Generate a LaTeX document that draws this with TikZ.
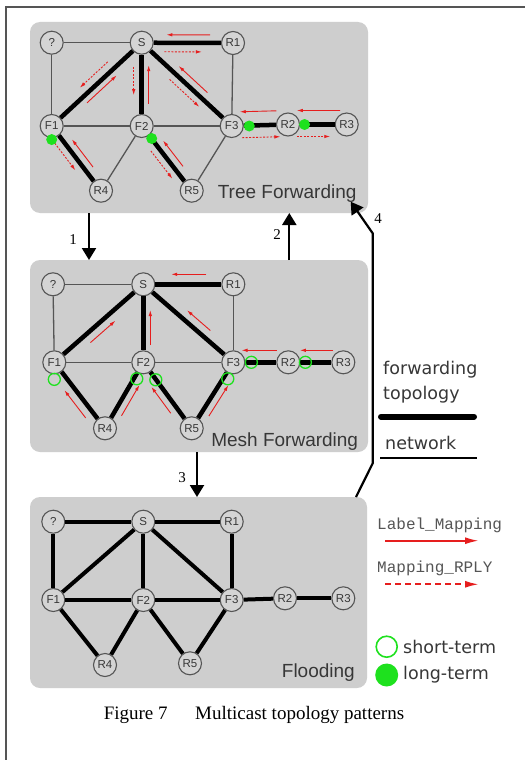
\documentclass[tikz,border=0pt]{standalone}
\usepackage{fontspec}
\setmainfont{Liberation Sans}
\newfontfamily\serffont{Liberation Serif}
\newfontfamily\monofnt{Liberation Mono}
\newfontfamily\legfont{DejaVu Sans}
\usetikzlibrary{calc,arrows.meta}
\definecolor{panelgray}{RGB}{206,206,206}
\definecolor{nodegray}{RGB}{212,212,212}
\definecolor{edgegray}{RGB}{85,85,85}
\definecolor{txtgray}{RGB}{55,55,55}
\definecolor{redarr}{RGB}{230,30,30}
\definecolor{grn}{RGB}{30,225,30}
\newcommand\rarr[6]{\draw[#6] ($(#1)!#3!(#2)!#5!90:(#2)$) -- ($(#1)!#4!(#2)!#5!90:(#2)$);}
\begin{document}
\begin{tikzpicture}[x=1pt,y=-1pt,
  panel/.style={fill=panelgray,rounded corners=10pt,inner sep=0pt,outer sep=0pt},
  nd/.style={circle,draw=edgegray,line width=1.1pt,fill=nodegray,minimum size=23pt,inner sep=0pt,
    font=\fontsize{11.5}{12}\selectfont,text=txtgray},
  netline/.style={draw=edgegray,line width=1.3pt},
  fwdline/.style={draw=black,line width=4.5pt},
  lm/.style={draw=redarr,line width=0.9pt,-{Latex[length=6pt,width=3.5pt]}},
  mr/.style={draw=redarr,line width=0.9pt,dash pattern=on 2pt off 1.5pt,-{Latex[length=6pt,width=3.5pt]}},
  bigarr/.style={draw=black,line width=2.2pt,-{Triangle[length=12pt,width=14pt]}},
  ttl/.style={anchor=east,font=\fontsize{19}{20}\selectfont,text=txtgray,inner sep=0pt},
  num/.style={font=\serffont\fontsize{15}{16}\selectfont,inner sep=0pt},
  leg/.style={anchor=west,font=\legfont\fontsize{17.5}{18}\selectfont,text=txtgray,inner sep=0pt},
  legm/.style={anchor=west,font=\monofnt\fontsize{16}{17}\selectfont,text=txtgray!85,inner sep=0pt},
  shortt/.style={circle,draw=grn,line width=1.3pt,minimum size=12pt,inner sep=0pt},
  longt/.style={circle,fill=grn,minimum size=11pt,inner sep=0pt}
]
\useasboundingbox (0,0) rectangle (525,760);
\fill[white] (0,0) rectangle (525,760);
% outer frame
\draw[edgegray,line width=1.2pt] (6,760) -- (6,7) -- (525,7);

% panels
\node[panel,minimum width=338pt,minimum height=191pt] (tp) at (199,117.5) {};
\node[panel,minimum width=338pt,minimum height=192pt] (mp) at (199,356) {};
\node[panel,minimum width=337pt,minimum height=191pt] (bp) at (198.5,592.5) {};

% ---------- Tree forwarding ----------
\node[nd] (tQ) at (51.7,42.7) {?};
\node[nd] (tS) at (141.7,42.7) {S};
\node[nd] (tR1) at (233,43) {R1};
\node[nd] (tF1) at (51.7,126) {F1};
\node[nd] (tF2) at (141.7,126) {F2};
\node[nd] (tF3) at (231.7,126) {F3};
\node[nd] (tR2) at (288,124.5) {R2};
\node[nd] (tR3) at (346.7,124.5) {R3};
\node[nd] (tR4) at (101,190.7) {R4};
\node[nd] (tR5) at (191.7,190.7) {R5};
\foreach \a/\b in {tQ/tS,tQ/tF1,tR1/tF3,tF1/tF2,tF2/tF3,tF2/tR4,tF3/tR5}
  \draw[netline] (\a) -- (\b);
\foreach \a/\b in {tS/tR1,tS/tF1,tS/tF2,tS/tF3,tF3/tR2,tR2/tR3,tF1/tR4,tF2/tR5}
  \draw[fwdline] (\a) -- (\b);
\rarr{tS}{tR1}{0.75}{0.27}{8pt}{lm}
\rarr{tS}{tR1}{0.25}{0.66}{-9pt}{mr}
\rarr{tS}{tF1}{0.31}{0.62}{-9pt}{mr}
\rarr{tS}{tF1}{0.66}{0.33}{7pt}{lm}
\rarr{tS}{tF2}{0.29}{0.63}{-8pt}{mr}
\rarr{tS}{tF2}{0.73}{0.27}{7pt}{lm}
\rarr{tS}{tF3}{0.67}{0.35}{8pt}{lm}
\rarr{tS}{tF3}{0.37}{0.70}{-8pt}{mr}
\rarr{tF3}{tR2}{0.80}{0.15}{14pt}{lm}
\rarr{tF3}{tR2}{0.18}{0.86}{-12pt}{mr}
\rarr{tR2}{tR3}{0.89}{0.15}{14pt}{lm}
\rarr{tR2}{tR3}{0.15}{0.72}{-12pt}{mr}
\rarr{tF1}{tR4}{0.71}{0.28}{8pt}{lm}
\rarr{tF1}{tR4}{0.19}{0.61}{-8pt}{mr}
\rarr{tF2}{tR5}{0.70}{0.30}{8pt}{lm}
\rarr{tF2}{tR5}{0.31}{0.74}{-8pt}{mr}
\node[longt] (tg1) at ($(tF3.east)+(5.5,0)$) {};
\node[longt] (tg2) at ($(tR2.east)+(4.5,0)$) {};
\node[longt] (tg3) at ($(tF1.south)+(0,1.5)$) {};
\node[longt] (tg4) at ($(tF2)+(10,12.5)$) {};
\node[ttl] (tt) at (356.7,193.3) {Tree Forwarding};

% ---------- Mesh forwarding ----------
\node[nd] (mQ) at (53,284.3) {?};
\node[nd] (mS) at (143.3,284.3) {S};
\node[nd] (mR1) at (233.3,284.3) {R1};
\node[nd] (mF1) at (54.3,362.3) {F1};
\node[nd] (mF2) at (143.3,362.3) {F2};
\node[nd] (mF3) at (233.3,362.3) {F3};
\node[nd] (mR2) at (288.3,362.3) {R2};
\node[nd] (mR3) at (343.3,362.3) {R3};
\node[nd] (mR4) at (105,428.3) {R4};
\node[nd] (mR5) at (191.7,428.3) {R5};
\foreach \a/\b in {mQ/mS,mQ/mF1,mR1/mF3,mF1/mF2,mF2/mF3}
  \draw[netline] (\a) -- (\b);
\foreach \a/\b in {mS/mR1,mS/mF1,mS/mF2,mS/mF3,mF3/mR2,mR2/mR3,mF1/mR4,mR4/mF2,mF2/mR5,mR5/mF3}
  \draw[fwdline] (\a) -- (\b);
\rarr{mS}{mR1}{0.70}{0.31}{10pt}{lm}
\rarr{mS}{mF1}{0.66}{0.38}{9pt}{lm}
\rarr{mS}{mF2}{0.78}{0.33}{7pt}{lm}
\rarr{mS}{mF3}{0.68}{0.42}{9pt}{lm}
\rarr{mF3}{mR2}{0.79}{0.15}{12pt}{lm}
\rarr{mR2}{mR3}{0.82}{0.21}{12pt}{lm}
\rarr{mF1}{mR4}{0.76}{0.34}{-9pt}{lm}
\rarr{mR4}{mF2}{0.25}{0.72}{-8pt}{lm}
\rarr{mF2}{mR5}{0.70}{0.30}{-8pt}{lm}
\rarr{mR5}{mF3}{0.25}{0.72}{-8pt}{lm}
\node[shortt] (mg1) at ($(mF1.south)+(0,5)$) {};
\node[shortt] (mg2) at ($(mF2)+(-6.5,16.5)$) {};
\node[shortt] (mg3) at ($(mF2)+(12.5,17.5)$) {};
\node[shortt] (mg4) at ($(mF3)+(-5.5,16.5)$) {};
\node[shortt] (mg5) at ($(mF3.east)+(6,0)$) {};
\node[shortt] (mg6) at ($(mR2.east)+(5,0)$) {};
\node[ttl] (mt) at (358.3,441.7) {Mesh Forwarding};

% ---------- Flooding ----------
\node[nd] (bQ) at (53.3,521.7) {?};
\node[nd] (bS) at (143.3,521.7) {S};
\node[nd] (bR1) at (231.7,521.7) {R1};
\node[nd] (bF1) at (53.3,600) {F1};
\node[nd] (bF2) at (143.3,600) {F2};
\node[nd] (bF3) at (231.7,600) {F3};
\node[nd] (bR2) at (285,598.3) {R2};
\node[nd] (bR3) at (343.3,598.3) {R3};
\node[nd] (bR4) at (105,665) {R4};
\node[nd] (bR5) at (190,663.3) {R5};
\foreach \a/\b in {bQ/bS,bQ/bF1,bS/bR1,bS/bF1,bS/bF2,bS/bF3,bR1/bF3,bF1/bF2,bF2/bF3,bF3/bR2,bR2/bR3,bF1/bR4,bR4/bF2,bF2/bR5,bR5/bF3}
  \draw[fwdline,line width=4pt] (\a) -- (\b);
\node[ttl] (bt) at (355,672.7) {Flooding};

% ---------- transitions ----------
\coordinate (x1) at (89,0);
\coordinate (x2) at (289.3,0);
\coordinate (x3) at (197,0);
\draw[bigarr] (tp.south -| x1) -- (mp.north -| x1);
\draw[bigarr] (mp.north -| x2) -- (tp.south -| x2);
\draw[bigarr] (mp.south -| x3) -- (bp.north -| x3);
\coordinate (a4s) at (356,497);
\coordinate (a4e) at (350.7,201.7);
\draw[bigarr] (a4s) -- (372.7,463.3) -- (372.7,233.3) -- (a4e);
\node[num] (n1) at (73,240) {1};
\node[num] (n2) at (277,235) {2};
\node[num] (n3) at (182,478) {3};
\node[num] (n4) at (378,219) {4};

% ---------- legend ----------
\node[leg] (lf) at (383,370) {forwarding};
\node[leg] (lt) at (383,395) {topology};
\draw[black,line width=6pt,line cap=round] (381,416.7) -- (474,416.7);
\node[leg] (ln) at (385,443) {network};
\draw[black,line width=2pt] (380,458.3) -- (477,458.3);
\node[legm] (llm) at (377,525) {Label\_Mapping};
\coordinate (l1a) at (385,540.7);
\coordinate (l1b) at (479,540.7);
\draw[redarr,line width=2pt,-{Latex[length=14pt,width=7pt]}] (l1a) -- (l1b);
\node[legm] (lmr) at (377,568) {Mapping\_RPLY};
\coordinate (l2a) at (385,584.3);
\coordinate (l2b) at (479,584.3);
\draw[redarr,line width=2pt,dash pattern=on 6pt off 4pt,-{Latex[length=14pt,width=7pt]}] (l2a) -- (l2b);
\node[circle,draw=grn,line width=1.6pt,minimum size=21pt,inner sep=0pt] (gs) at (386.7,646.7) {};
\node[leg,anchor=west] (ls) at (403,646.7) {short-term};
\node[circle,fill=grn,minimum size=23pt,inner sep=0pt] (gl) at (386.7,675) {};
\node[leg,anchor=west] (ll) at (403,675) {long-term};

% caption
\node[font=\serffont\fontsize{19}{20}\selectfont,inner sep=0pt] (cap) at (254,715) {Figure 7\hspace{1.45em}Multicast topology patterns};
\end{tikzpicture}
\end{document}
